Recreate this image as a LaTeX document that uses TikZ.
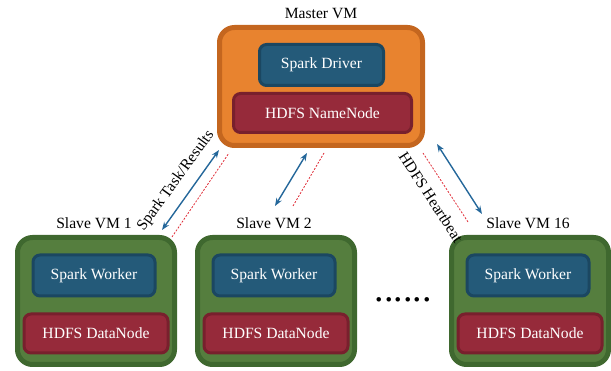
\documentclass[tikz,border=0pt]{standalone}
\usepackage{fontspec}
\setmainfont{Liberation Serif}
\usetikzlibrary{arrows.meta}

\definecolor{mastfill}{HTML}{E8832F}
\definecolor{mastline}{HTML}{C4661F}
\definecolor{slavefill}{HTML}{557E3E}
\definecolor{slaveline}{HTML}{3F682F}
\definecolor{sparkfill}{HTML}{245A79}
\definecolor{sparkline}{HTML}{1B4761}
\definecolor{hdfsfill}{HTML}{962A3A}
\definecolor{hdfsline}{HTML}{78202D}
\definecolor{linkblue}{HTML}{24679A}
\definecolor{beatred}{HTML}{E0303A}

\tikzset{
	vmbox/.style = {line width = 5pt, rounded corners = 15pt,
					minimum height = 127pt},
	inbox/.style = {line width = 3pt, rounded corners = 7pt,
					text = white, font = \fontsize{15.6}{18}\selectfont},
	sparkbox/.style = {inbox, fill = sparkfill, draw = sparkline,
					   minimum height = 41pt},
	hdfsbox/.style = {inbox, fill = hdfsfill, draw = hdfsline,
					  minimum height = 39pt},
	vmlabel/.style = {font = \fontsize{15.6}{18}\selectfont},
	tasklink/.style = {linkblue, line width = 1.4pt,
					   {Stealth[length = 8pt, width = 6pt]}-{Stealth[length = 8pt, width = 6pt]}},
	beatlink/.style = {beatred, line width = 0.8pt, dash pattern = on 2pt off 1.5pt}
}

\begin{document}
\begin{tikzpicture}[x = 1pt, y = -1pt]
	\useasboundingbox (0, 0) rectangle (611, 371);

	% master
	\draw (321, 86.5) node[vmbox,
					  fill = mastfill, draw = mastline,
					  minimum width = 203pt, minimum height = 118pt
			   ](M){};
	\draw (321, 14) node[vmlabel](Mlab){Master VM};
	\draw (321.5, 65) node[sparkbox,
					  minimum width = 124pt
			   ](SD){Spark Driver};
	\draw (322.5, 113) node[hdfsbox,
					  minimum width = 178pt
			   ](NN){HDFS NameNode};

	% slaves
	\foreach \n/\x/\lab in {1/96/Slave VM 1, 2/276/Slave VM 2, 16/530/Slave VM 16}{
		\draw (\x, 301) node[vmbox,
						  fill = slavefill, draw = slaveline,
						  minimum width = 157pt
				   ](S\n){};
		\draw (\x - 2, 223) node[vmlabel](S\n lab){\lab};
		\draw (\x - 2, 275.5) node[sparkbox,
						  minimum width = 122pt
				   ](W\n){Spark Worker};
		\draw (\x, 333.5) node[hdfsbox,
						  minimum width = 144pt
				   ](D\n){HDFS DataNode};
	}

	\draw (403, 300) node[font = \fontsize{38}{38}\selectfont](dots){......};

	% links
	\coordinate (a1) at (162, 230);
	\coordinate (b1) at (219, 150);
	\coordinate (c1) at (172, 237);
	\coordinate (d1) at (229, 153);
	\coordinate (a2) at (275, 206);
	\coordinate (b2) at (307, 153);
	\coordinate (c2) at (293, 206);
	\coordinate (d2) at (324, 153);
	\coordinate (a3) at (482, 214);
	\coordinate (b3) at (437, 144);
	\coordinate (c3) at (468, 222);
	\coordinate (d3) at (423, 153);

	\draw[tasklink] (a1) -- (b1);
	\draw[tasklink] (a2) -- (b2);
	\draw[tasklink] (a3) -- (b3);

	\draw[beatlink] (c1) -- (d1);
	\draw[beatlink] (c2) -- (d2);
	\draw[beatlink] (c3) -- (d3);

	\draw (176, 181) node[vmlabel, rotate = 54](task){Spark Task/Results};
	\draw (431, 197) node[vmlabel, rotate = -57](beat){HDFS Heartbeat};
\end{tikzpicture}
\end{document}
